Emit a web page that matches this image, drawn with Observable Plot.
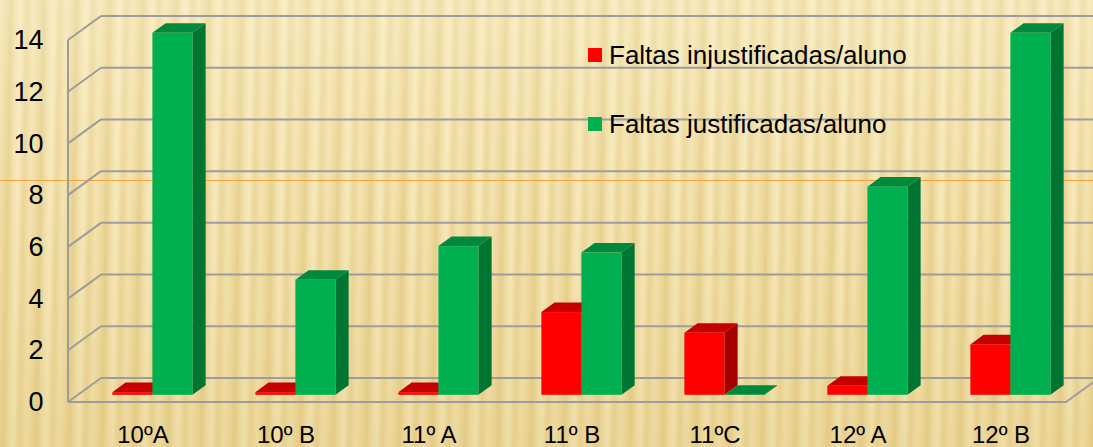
<!DOCTYPE html>
<html><head><meta charset="utf-8">
<script src="https://cdn.jsdelivr.net/npm/d3@7"></script>
<script src="https://cdn.jsdelivr.net/npm/@observablehq/plot@0.6"></script>
<style>
html,body{margin:0;padding:0;background:#efdca4;}
#wrap{position:relative;width:1093px;height:447px;overflow:hidden;
 background:
   linear-gradient(180deg, rgba(255,250,225,0.30) 0%, rgba(255,245,210,0) 45%, rgba(210,175,85,0.20) 100%),
   repeating-linear-gradient(91deg, #f4e4b2 0px, #efdba0 6px, #e7d08f 11px, #f1e0aa 16px, #f7e9bb 21px, #ebd598 27px, #f3e2ae 33px),
   #efdca4;
 font-family:"Liberation Sans", Arial, sans-serif;}
#orange{position:absolute;left:0;top:179.5px;width:1093px;height:1.6px;background:#f2a33c;}
#chart{position:absolute;left:0;top:0;}
.leg{position:absolute;left:588px;font-size:26px;color:#000;white-space:nowrap;line-height:1;}
.leg span.sw{position:absolute;left:0;width:14px;height:14px;}
.leg span.tx{position:absolute;left:21px;}
</style>
</head><body>
<div id="wrap">
  <div id="orange"></div>
  <div id="chart"></div>
  <div class="leg" style="top:0px"><span class="sw" style="top:48px;background:#ff0000"></span><span class="tx" id="l1" style="top:42px"></span></div>
  <div class="leg" style="top:0px"><span class="sw" style="top:117px;background:#00b050"></span><span class="tx" id="l2" style="top:111px"></span></div>
</div>
<script>
const classes = ["10ºA", "10º B", "11º A", "11º B", "11ºC", "12º A", "12º B"];
const injustificadas = [0.1, 0.1, 0.1, 3.2, 2.4, 0.35, 1.95];
const justificadas = [14, 4.45, 5.75, 5.5, 0, 8.05, 14];
const seriesNames = ["Faltas injustificadas/aluno", "Faltas justificadas/aluno"];
const yTicks = [0, 2, 4, 6, 8, 10, 12, 14];

const colors = {
  inj: {front: "#ff0000", top: "#c40000", side: "#a50000"},
  jus: {front: "#00b050", top: "#00883c", side: "#007532"}
};
const D = {dx: 33, dy: -24};       // depth vector of the 3D box
const T0 = 0.3, T1 = 0.7;          // bars occupy this depth slice

document.getElementById("l1").textContent = seriesNames[0];
document.getElementById("l2").textContent = seriesNames[1];

const rows = [];
classes.forEach((c, i) => {
  rows.push({cls: c, serie: "inj", v: injustificadas[i], side: -1});
  rows.push({cls: c, serie: "jus", v: justificadas[i], side: 1});
});

function walls(index, scales) {
  const {x, y} = scales;
  const g = d3.create("svg:g");
  const [xa, xb] = x.range();
  const grid = "#9c9c9c";
  for (const t of yTicks) {
    const yf = y(t);
    g.append("line").attr("x1", xa).attr("y1", yf).attr("x2", xa + D.dx).attr("y2", yf + D.dy)
      .attr("stroke", grid).attr("stroke-width", 2);
    g.append("line").attr("x1", xa + D.dx).attr("y1", yf + D.dy).attr("x2", xb + D.dx + 40).attr("y2", yf + D.dy)
      .attr("stroke", grid).attr("stroke-width", 2);
  }
  g.append("line").attr("x1", xa).attr("y1", y(0)).attr("x2", xa).attr("y2", y(14))
    .attr("stroke", grid).attr("stroke-width", 2);
  const xe = xb - 8;
  g.append("polyline")
    .attr("points", `${xa},${y(0)} ${xe},${y(0)} ${xe + D.dx},${y(0) + D.dy}`)
    .attr("fill", "none").attr("stroke", grid).attr("stroke-width", 2);
  return g.node();
}

function bars(index, scales) {
  const {x, y} = scales;
  const g = d3.create("svg:g");
  const bw = x.bandwidth();
  const barW = bw * 0.28;
  const ox0 = D.dx * T0, oy0 = D.dy * T0, ox1 = D.dx * T1, oy1 = D.dy * T1;
  for (const r of rows) {
    const cx = x(r.cls) + bw / 2;
    const xl = r.side < 0 ? cx - barW : cx;
    const xr = xl + barW;
    const y0 = y(0), yv = y(r.v);
    const col = colors[r.serie];
    g.append("polygon").attr("fill", col.side)
      .attr("points", [[xr + ox0, y0 + oy0], [xr + ox1, y0 + oy1], [xr + ox1, yv + oy1], [xr + ox0, yv + oy0]].join(" "));
    g.append("polygon").attr("fill", col.top)
      .attr("points", [[xl + ox0, yv + oy0], [xl + ox1, yv + oy1], [xr + ox1, yv + oy1], [xr + ox0, yv + oy0]].join(" "));
    g.append("rect").attr("fill", col.front)
      .attr("x", xl + ox0).attr("y", yv + oy0).attr("width", barW).attr("height", Math.max(0, y0 - yv));
  }
  return g.node();
}

const chart = Plot.plot({
  width: 1093,
  height: 447,
  marginLeft: 68,
  marginRight: 19,
  marginTop: 40,
  marginBottom: 45,
  style: {background: "transparent", fontFamily: "'Liberation Sans', Arial, sans-serif", color: "#000", overflow: "visible"},
  x: {type: "band", domain: classes, padding: 0, axis: null},
  y: {domain: [0, 14], axis: null},
  marks: [
    walls,
    Plot.axisY({ticks: yTicks, tickSize: 0, tickPadding: 25, fontSize: 27, label: null}),
    Plot.axisX({tickSize: 0, tickPadding: 23, fontSize: 24, label: null}),
    bars
  ]
});
document.getElementById("chart").appendChild(chart);
</script>
</body></html>
